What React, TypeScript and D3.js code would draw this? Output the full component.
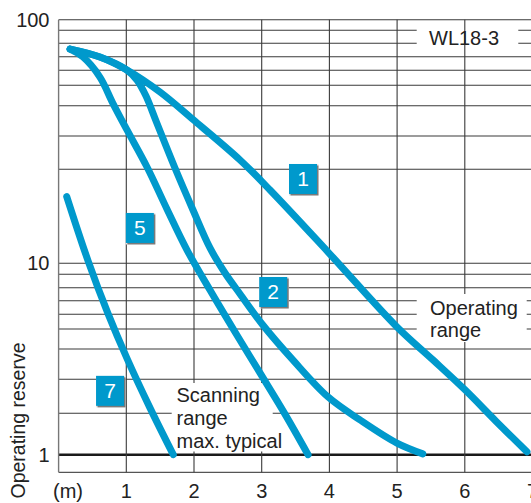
import React from 'react';
import * as d3 from 'd3';

// ---- data ----
const reserveGrid = [1, 2, 3, 4, 5, 6, 7, 8, 9, 10, 20, 30, 40, 50, 60, 70, 80, 90, 100];
const reserveLabels = [1, 10, 100];
const distanceTicks = [1, 2, 3, 4, 5, 6, 7];

// curve: [distance m, operating reserve]
const curve1: [number, number][] = [
  [0.17, 75.7], [0.61, 69.8], [1.01, 60.2], [1.498, 46.7], [1.993, 35.3], [2.68, 22.8],
  [3.123, 17.8], [3.98, 11.2], [4.998, 5.14], [5.53, 3.64], [6.003, 2.69], [6.46, 1.81], [6.918, 1.07],
];
const curve2: [number, number][] = [
  [0.17, 75.7], [0.61, 69.8], [1.01, 60.2], [1.158, 53.5], [1.291, 44.75], [1.439, 34.95],
  [1.719, 20.39], [1.985, 15.67], [2.236, 11.63], [2.458, 9.12], [2.68, 7.52], [3.005, 5.34],
  [3.46, 3.64], [3.98, 2.48], [4.452, 1.84], [4.998, 1.28], [5.38, 1.02],
];
const curve5: [number, number][] = [
  [0.17, 75.7], [0.36, 69.8], [0.61, 55.5], [0.8, 41.3], [1.01, 32.0], [1.306, 20.7],
  [1.6, 15.78], [1.897, 11.41], [2.236, 7.82], [2.606, 4.85], [2.975, 3.21], [3.344, 1.98], [3.685, 1.0],
];
const curve7: [number, number][] = [
  [0.12, 17.1], [0.434, 10.29], [0.73, 6.05], [1.01, 3.69], [1.35, 2.16], [1.694, 1.0],
];
const curves = [curve1, curve2, curve5, curve7];

// number badges: [label, distance, reserve]
const badges: [string, number, number][] = [
  ['1', 3.61, 18.97],
  ['2', 3.17, 7.67],
  ['5', 1.2, 13.76],
  ['7', 0.76, 2.66],
];

// ---- layout ----
const W = 531;
const H = 503;
const reservePx = [454.7, 413.3, 379.3, 349, 329, 314.3, 300.7, 287.7, 274.3, 263.3, 169.3, 136, 105.7, 85.3, 70.3, 56.7, 43.3, 30.3, 19.7];
const plotTop = 19.7;
const plotBottom = 472.3;
const BLUE = '#0099cc';
const FONT = '"Liberation Sans", Arial, sans-serif';
const TXT = '#222';

export default function App() {
  const x = d3.scaleLinear().domain([0, 7]).range([58.6, 532.5]);
  const y = d3.scaleLinear().domain(reserveGrid).range(reservePx);
  const line = d3
    .line<[number, number]>()
    .x((d) => x(d[0]))
    .y((d) => y(d[1]))
    .curve(d3.curveCatmullRom.alpha(0.5));

  const hLines = reserveGrid.map((v) => (
    <line
      key={'h' + v}
      x1={x(0)}
      x2={W + 10}
      y1={y(v)}
      y2={y(v)}
      stroke={v === 1 ? '#1a1a1a' : '#3a3a3a'}
      strokeWidth={v === 1 ? 2.4 : 1.1}
    />
  ));
  const vLines = distanceTicks.map((d) => (
    <line key={'v' + d} x1={x(d)} x2={x(d)} y1={plotTop} y2={plotBottom} stroke="#3a3a3a" strokeWidth={1.1} />
  ));

  return (
    <svg
      width={W}
      height={H}
      style={{ position: 'absolute', left: 0, top: 0, background: '#fff' }}
      fontFamily={FONT}
    >
      <rect width={W} height={H} fill="#fff" />
      {hLines}
      <line x1={x(0)} x2={W + 10} y1={plotBottom} y2={plotBottom} stroke="#555" strokeWidth={1.2} />
      {/* WL18-3 box hides horizontal lines only */}
      <rect x={416.7} y={24} width={101.6} height={25} fill="#fff" />
      {vLines}
      <line x1={x(0)} x2={x(0)} y1={plotTop} y2={plotBottom} stroke="#777" strokeWidth={1.4} />
      {/* Operating range box */}
      <rect x={416.7} y={294} width={110} height={48} fill="#fff" />
      {/* Scanning range box */}
      <rect x={171.7} y={383} width={101} height={68.5} fill="#fff" />

      {curves.map((c, i) => (
        <path
          key={'c' + i}
          d={line(c) || ''}
          fill="none"
          stroke={BLUE}
          strokeWidth={7}
          strokeLinecap="round"
          strokeLinejoin="round"
        />
      ))}

      {badges.map(([t, m, r]) => {
        const cx = x(m);
        const cy = y(r);
        return (
          <g key={'b' + t}>
            <rect x={cx - 14} y={cy - 15} width={29.5} height={31.5} fill="#e6e6e6" />
            <rect x={cx - 12.5} y={cy - 13.5} width={28} height={30} fill="#7a7a7a" />
            <rect x={cx - 14} y={cy - 15} width={28} height={30} fill={BLUE} />
            <text x={cx} y={cy + 7.5} textAnchor="middle" fill="#fff" fontSize={21}>
              {t}
            </text>
          </g>
        );
      })}

      {/* texts */}
      <text x={429} y={45} fontSize={20} fill={TXT}>WL18-3</text>
      <text x={430} y={315} fontSize={20} fill={TXT}>Operating</text>
      <text x={430} y={337} fontSize={20} fill={TXT}>range</text>
      <text x={176.5} y={401.5} fontSize={20} fill={TXT}>Scanning</text>
      <text x={176.5} y={425} fontSize={20} fill={TXT}>range</text>
      <text x={176.5} y={448.3} fontSize={20} fill={TXT}>max. typical</text>

      {reserveLabels.map((v) => (
        <text key={'yl' + v} x={49.5} y={y(v) + 7} textAnchor="end" fontSize={20} fill={TXT}>
          {v}
        </text>
      ))}
      {distanceTicks.map((d) => (
        <text key={'xl' + d} x={x(d)} y={498} textAnchor="middle" fontSize={20} fill={TXT}>
          {d}
        </text>
      ))}
      <text x={68} y={498} textAnchor="middle" fontSize={20} fill={TXT}>(m)</text>
      <text
        transform={`translate(25,420.5) rotate(-90)`}
        textAnchor="middle"
        fontSize={19.5}
        fill={TXT}
      >
        Operating reserve
      </text>
    </svg>
  );
}
